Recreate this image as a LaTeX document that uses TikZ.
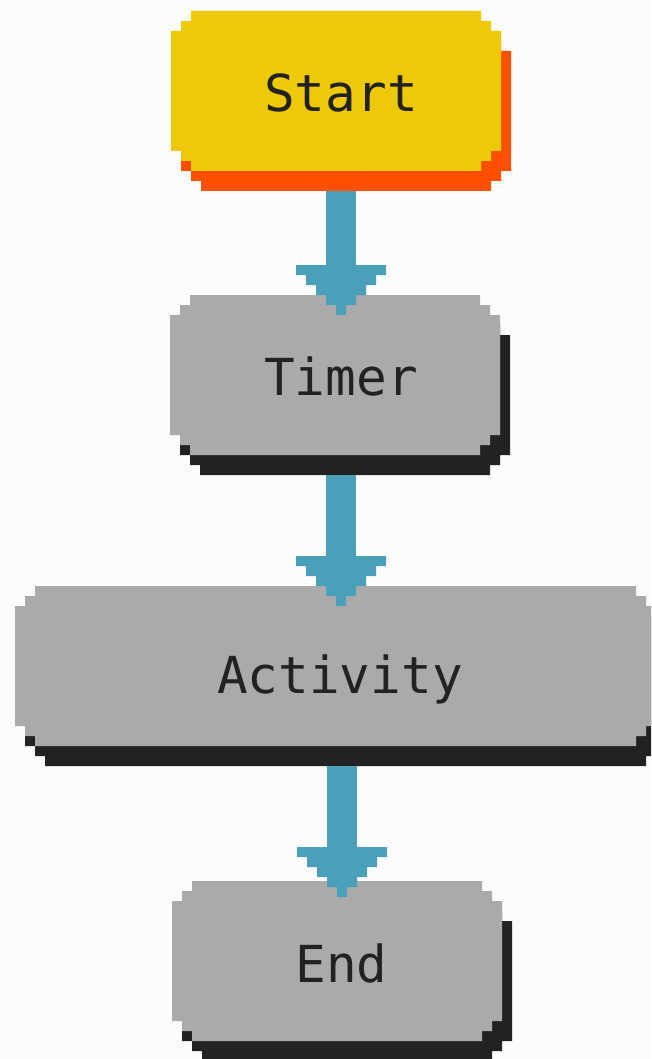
\documentclass[tikz,border=0pt]{standalone}
\usepackage{fontspec}
\newfontfamily\monofont{DejaVu Sans Mono}
\usetikzlibrary{calc}
\definecolor{bgc}{HTML}{FCFCFC}
\definecolor{startc}{HTML}{EEC90A}
\definecolor{startsh}{HTML}{FF5000}
\definecolor{boxc}{HTML}{AAAAAA}
\definecolor{boxsh}{HTML}{222222}
\definecolor{arrowc}{HTML}{4AA0B8}
\definecolor{textc}{HTML}{222222}

\pgfdeclarearrow{
  name = PixHead,
  setup code = {
    \pgfarrowssettipend{0pt}
    \pgfarrowssetlineend{-20pt}
    \pgfarrowssetbackend{-50pt}
    \pgfarrowssetvisualbackend{-20pt}
  },
  drawing code = {
    \pgfsetfillcolor{arrowc}
    \pgfpathmoveto{\pgfqpoint{-50pt}{45pt}}
    \pgfpathlineto{\pgfqpoint{-40pt}{45pt}}
    \pgfpathlineto{\pgfqpoint{-40pt}{35pt}}
    \pgfpathlineto{\pgfqpoint{-30pt}{35pt}}
    \pgfpathlineto{\pgfqpoint{-30pt}{25pt}}
    \pgfpathlineto{\pgfqpoint{-20pt}{25pt}}
    \pgfpathlineto{\pgfqpoint{-20pt}{15pt}}
    \pgfpathlineto{\pgfqpoint{-10pt}{15pt}}
    \pgfpathlineto{\pgfqpoint{-10pt}{5pt}}
    \pgfpathlineto{\pgfqpoint{0pt}{5pt}}
    \pgfpathlineto{\pgfqpoint{0pt}{-5pt}}
    \pgfpathlineto{\pgfqpoint{-10pt}{-5pt}}
    \pgfpathlineto{\pgfqpoint{-10pt}{-15pt}}
    \pgfpathlineto{\pgfqpoint{-20pt}{-15pt}}
    \pgfpathlineto{\pgfqpoint{-20pt}{-25pt}}
    \pgfpathlineto{\pgfqpoint{-30pt}{-25pt}}
    \pgfpathlineto{\pgfqpoint{-30pt}{-35pt}}
    \pgfpathlineto{\pgfqpoint{-40pt}{-35pt}}
    \pgfpathlineto{\pgfqpoint{-40pt}{-45pt}}
    \pgfpathlineto{\pgfqpoint{-50pt}{-45pt}}
    \pgfpathclose
    \pgfusepathqfill
  }
}

% stepped (pixel) outline of node #1 shifted by (#2,#3)
\newcommand\pixpath[3]{([shift={(#2+20,#3)}]#1.north west) -- ([shift={(#2-20,#3)}]#1.north east) -- ([shift={(#2-20,#3+10)}]#1.north east) -- ([shift={(#2-10,#3+10)}]#1.north east) -- ([shift={(#2-10,#3+20)}]#1.north east) -- ([shift={(#2,#3+20)}]#1.north east) -- ([shift={(#2,#3-20)}]#1.south east) -- ([shift={(#2-10,#3-20)}]#1.south east) -- ([shift={(#2-10,#3-10)}]#1.south east) -- ([shift={(#2-20,#3-10)}]#1.south east) -- ([shift={(#2-20,#3)}]#1.south east) -- ([shift={(#2+20,#3)}]#1.south west) -- ([shift={(#2+20,#3-10)}]#1.south west) -- ([shift={(#2+10,#3-10)}]#1.south west) -- ([shift={(#2+10,#3-20)}]#1.south west) -- ([shift={(#2,#3-20)}]#1.south west) -- ([shift={(#2,#3+20)}]#1.north west) -- ([shift={(#2+10,#3+20)}]#1.north west) -- ([shift={(#2+10,#3+10)}]#1.north west) -- ([shift={(#2+20,#3+10)}]#1.north west) -- cycle}

\tikzset{
  boxnode/.style={inner sep=0pt, outer sep=0pt, minimum height=160pt},
  lbl/.style={anchor=base, inner sep=0pt, text=textc, font=\monofont\fontsize{51}{51}\selectfont},
  conn/.style={draw=arrowc, line width=30pt, -PixHead}
}

\begin{document}
\begin{tikzpicture}[x=1pt, y=-1pt]
\useasboundingbox (0,0) rectangle (651,1059);
\fill[bgc] (0,0) rectangle (651,1059);
\clip (0,0) rectangle (651,1059);

\node[boxnode, minimum width=330pt] (start) at (336,91) {};
\node[boxnode, minimum width=330pt] (timer) at (335,375) {};
\node[boxnode, minimum width=641pt] (activity) at (335.5,666) {};
\node[boxnode, minimum width=330pt] (endbox) at (337,961) {};

% shadows and boxes
\fill[startsh] \pixpath{start}{10}{20};
\fill[startc] \pixpath{start}{0}{0};
\fill[boxsh] \pixpath{timer}{10}{20};
\fill[boxc] \pixpath{timer}{0}{0};
\fill[boxsh] \pixpath{activity}{10}{20};
\fill[boxc] \pixpath{activity}{0}{0};
\fill[boxsh] \pixpath{endbox}{10}{20};
\fill[boxc] \pixpath{endbox}{0}{0};

% labels
\node[lbl] (startlbl) at (341,111.5) {Start};
\node[lbl] (timerlbl) at (341,395) {Timer};
\node[lbl] (activitylbl) at (340,693.5) {Activity};
\node[lbl] (endlbl) at (341.5,982) {End};

% connectors
\draw[conn] ([shift={(5,20)}]start.south) -- ([shift={(6,20)}]timer.north);
\draw[conn] ([shift={(6,20)}]timer.south) -- ([shift={(5.5,20)}]activity.north);
\draw[conn] ([shift={(6.5,20)}]activity.south) -- ([shift={(5,16)}]endbox.north);
\end{tikzpicture}
\end{document}
